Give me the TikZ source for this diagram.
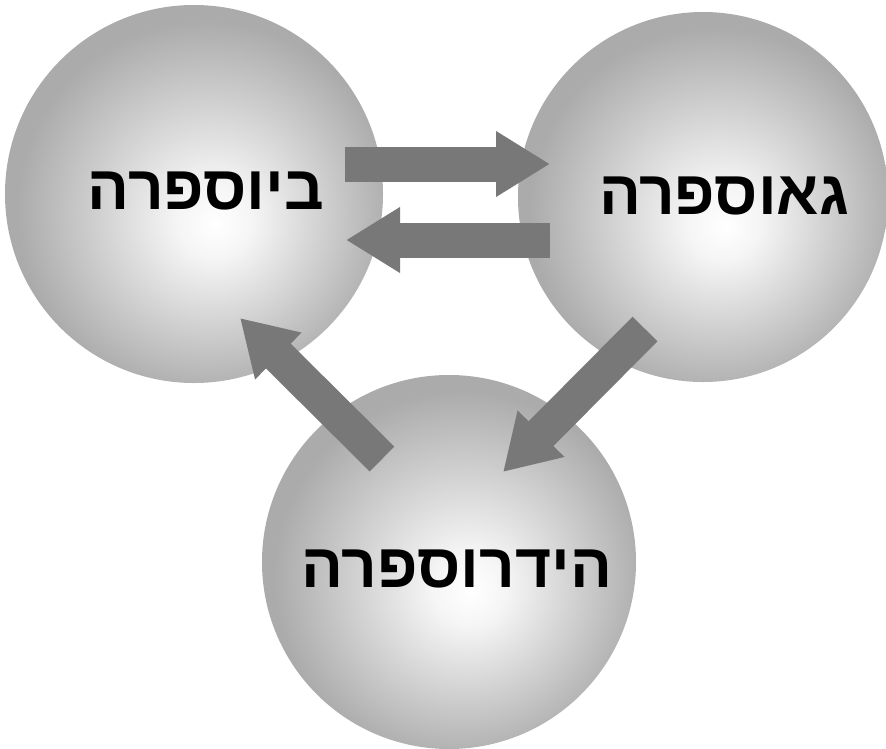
\documentclass[tikz,border=0pt]{standalone}
\usepackage{fontspec}
\usepackage{tikz}
\usetikzlibrary{arrows.meta}
\TeXXeTstate=1
\newfontfamily\hebfont[Script=Hebrew]{Liberation Sans}
\definecolor{flowgray}{RGB}{120,120,120}
\pgfdeclareradialshading{spherelight}{\pgfpoint{3bp}{-4bp}}{color(0bp)=(white); color(5bp)=(white!96!black); color(25bp)=(black!33); color(50bp)=(black!33)}
\tikzstyle{sphere}=     [circle, draw=none, inner sep=0pt, shading=spherelight]
\tikzstyle{word}=       [inner sep=0pt, font=\hebfont\bfseries\fontsize{53}{58}\selectfont]
\tikzstyle{flow}=       [draw=flowgray, line width=1.05cm, -{Triangle[length=1.62cm, width=1.86cm, fill=flowgray]}]

\begin{document}
\begin{tikzpicture}[x=0.03cm, y=-0.03cm]
 \useasboundingbox (0,0) rectangle (886,749);

 \node[sphere, minimum size=11.34cm] (bio) at (194,194) {};
 \node[sphere, minimum size=11.1cm] (geo) at (703,197) {};
 \node[sphere, minimum size=11.22cm] (hydro) at (449,562) {};

 \coordinate (biogeoS) at (345,164);
 \coordinate (biogeoE) at (550,164);
 \coordinate (geobioS) at (550,240);
 \coordinate (geobioE) at (346,240);
 \coordinate (hydrobioS) at (382,459);
 \coordinate (hydrobioE) at (240,318);
 \coordinate (geohydroS) at (645,329);
 \coordinate (geohydroE) at (503,472);

 \draw[flow] (biogeoS) -- (biogeoE);
 \draw[flow] (geobioS) -- (geobioE);
 \draw[flow] (hydrobioS) -- (hydrobioE);
 \draw[flow] (geohydroS) -- (geohydroE);

 \node[word] (biotext) at (206,191) {\beginR ביוספרה\endR};
 \node[word] (geotext) at (724,196) {\beginR גאוספרה\endR};
 \node[word] (hydrotext) at (457,569) {\beginR הידרוספרה\endR};
\end{tikzpicture}
\end{document}
